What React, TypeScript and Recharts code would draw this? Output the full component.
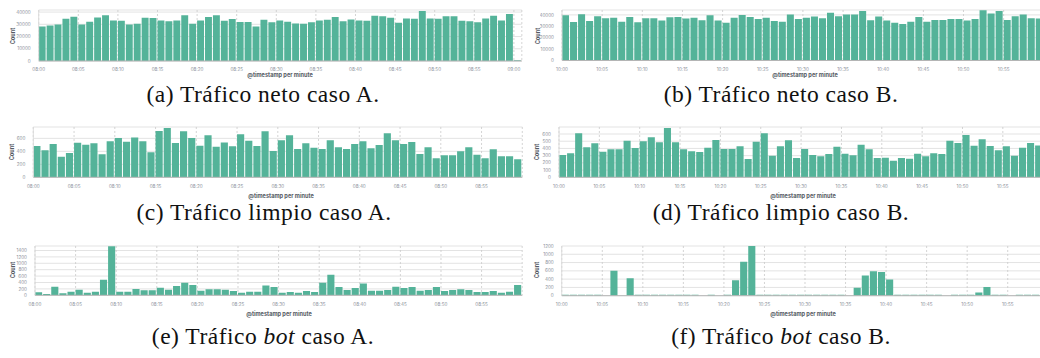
import React from 'react';
import { BarChart, Bar, XAxis, YAxis, CartesianGrid } from 'recharts';

// ---------- data ----------
const netoA = [28300, 29100, 29900, 34600, 36200, 29900, 32100, 35600, 37500, 33200, 32900, 29900, 30500, 35400, 35100, 33200, 32400, 33200, 37500, 30500, 33200, 35900, 37500, 32900, 34300, 31800, 31800, 28300, 33700, 31600, 33200, 32100, 30700, 30500, 31600, 33200, 33700, 35900, 32400, 34000, 33200, 32900, 37000, 36500, 35400, 31300, 34800, 34600, 40800, 34800, 34600, 36500, 36500, 32900, 32400, 31600, 34800, 37000, 33200, 38400, 700];
const netoB = [39700, 33800, 40600, 34700, 38800, 37100, 37400, 34100, 38200, 33500, 37100, 37100, 35000, 37900, 38200, 36800, 37400, 35300, 39700, 35000, 33200, 37400, 40000, 38200, 36500, 37600, 34700, 34100, 40300, 36500, 37600, 38500, 37100, 41800, 38800, 40300, 40300, 43500, 35300, 38500, 35000, 33200, 32100, 34100, 38200, 34100, 35600, 35600, 36500, 36500, 35000, 36500, 44100, 41200, 43500, 35600, 38800, 40300, 37100, 36800];
const limpioA = [482, 415, 513, 318, 374, 533, 503, 523, 354, 554, 605, 549, 615, 554, 385, 713, 759, 528, 708, 605, 487, 646, 472, 538, 477, 662, 564, 482, 708, 405, 569, 646, 436, 523, 456, 436, 569, 462, 436, 513, 554, 446, 497, 677, 569, 513, 544, 359, 462, 292, 338, 338, 400, 462, 349, 292, 431, 323, 323, 277];
const limpioB = [309, 332, 609, 415, 471, 355, 388, 388, 508, 406, 498, 554, 485, 683, 485, 388, 360, 351, 411, 517, 392, 392, 429, 254, 494, 609, 300, 429, 512, 267, 392, 309, 291, 323, 425, 328, 305, 452, 388, 267, 272, 231, 267, 258, 328, 291, 332, 323, 508, 475, 586, 438, 526, 434, 374, 429, 300, 411, 475, 440];
const botA = [93, 41, 268, 62, 113, 175, 82, 113, 485, 1536, 113, 113, 196, 155, 155, 237, 175, 289, 392, 320, 144, 186, 186, 175, 134, 82, 113, 113, 309, 258, 82, 103, 82, 134, 103, 392, 639, 258, 165, 227, 371, 144, 144, 165, 268, 227, 258, 144, 165, 258, 134, 165, 186, 165, 103, 103, 134, 82, 113, 320];
const botB = [25, 25, 25, 25, 25, 0, 600, 0, 420, 25, 25, 25, 25, 25, 25, 25, 25, 0, 25, 0, 25, 370, 820, 1200, 25, 25, 25, 25, 25, 25, 25, 25, 25, 25, 25, 0, 190, 490, 590, 570, 390, 25, 25, 25, 25, 25, 25, 0, 25, 25, 25, 80, 210, 25, 25, 0, 25, 25, 25, 25];

const ticksA = ['08:00', '08:05', '08:10', '08:15', '08:20', '08:25', '08:30', '08:35', '08:40', '08:45', '08:50', '08:55', '09:00'];
const ticksB = ['10:00', '10:05', '10:10', '10:15', '10:20', '10:25', '10:30', '10:35', '10:40', '10:45', '10:50', '10:55'];

const yNeto = [0, 10000, 20000, 30000, 40000];
const yLimpioA = [0, 200, 400, 600];
const yLimpioB = [0, 100, 200, 300, 400, 500, 600];
const yBotA = [0, 200, 400, 600, 800, 1000, 1200, 1400];
const yBotB = [0, 200, 400, 600, 800, 1000, 1200];

const minuteLabels = (hour: number, n: number) =>
  Array.from({ length: n }, (_, i) => {
    const h = hour + Math.floor(i / 60);
    const m = i % 60;
    return `${String(h).padStart(2, '0')}:${String(m).padStart(2, '0')}`;
  });

const BAR = '#54B399';
const KFONT = 'Inter, "Noto Sans", sans-serif';

type PanelProps = {
  values: number[];
  startHour: number;
  tickLabels: string[];
  yTicks: number[];
  yMax: number;
  svgLeft: number;
  plotLeft: number;
  plotTop: number;
  plotBottom: number;
  pxPerMin: number;
};

function Panel(p: PanelProps) {
  const n = p.values.length;
  const cats = minuteLabels(p.startHour, n);
  const data = p.values.map((v, i) => ({ t: i + 0.5, minute: cats[i], count: v }));
  const xTickVals = p.tickLabels.map((_, i) => i * 5);
  const plotRight = p.plotLeft + n * p.pxPerMin;
  const svgTop = p.plotTop - 4;
  const xAxisH = 12;
  const height = p.plotBottom - svgTop + xAxisH;
  const width = plotRight - p.svgLeft + 2;
  return (
    <div style={{ position: 'absolute', left: p.svgLeft, top: svgTop }}>
      <BarChart
        width={width}
        height={height}
        data={data}
        margin={{ top: p.plotTop - svgTop, right: 2, left: 0, bottom: 0 }}
      >
        <CartesianGrid vertical={false} stroke="#e3e3e3" strokeWidth={1} />
        <CartesianGrid horizontal={false} stroke="#c9c9c9" strokeDasharray="2 2" strokeWidth={0.8} />
        <XAxis
          dataKey="t"
          type="number"
          domain={[0, n]}
          ticks={xTickVals}
          interval={0}
          allowDataOverflow
          height={xAxisH}
          tickLine={false}
          axisLine={{ stroke: '#b5b5b5' }}
          tick={{ fontSize: 4.6, fill: '#8a8f99', fontFamily: KFONT }}
          tickMargin={1}
          tickFormatter={(v: number) => p.tickLabels[Math.round(v / 5)] ?? ''}
        />
        <YAxis
          type="number"
          domain={[0, p.yMax]}
          ticks={p.yTicks}
          interval={0}
          allowDataOverflow
          width={p.plotLeft - p.svgLeft}
          tickLine={false}
          axisLine={{ stroke: '#dcdcdc' }}
          tick={{ fontSize: 4.6, fill: '#8a8f99', fontFamily: KFONT }}
          tickMargin={2}
        />
        <Bar dataKey="count" fill={BAR} barSize={p.pxPerMin - 1} isAnimationActive={false} />
      </BarChart>
    </div>
  );
}

function CountLabel({ x, y }: { x: number; y: number }) {
  return (
    <div
      style={{
        position: 'absolute', left: x, top: y, transform: 'translate(-50%, -50%) rotate(-90deg)',
        fontFamily: KFONT, fontSize: 5.6, fontWeight: 700, color: '#555a63', whiteSpace: 'nowrap',
      }}
    >
      Count
    </div>
  );
}

function XTitle({ x, y }: { x: number; y: number }) {
  return (
    <div
      style={{
        position: 'absolute', left: x, top: y, transform: 'translate(-50%, -50%)',
        fontFamily: KFONT, fontSize: 5.6, fontWeight: 700, color: '#555a63', whiteSpace: 'nowrap',
      }}
    >
      @timestamp per minute
    </div>
  );
}

function Caption({ x, y, children }: { x: number; y: number; children: React.ReactNode }) {
  return (
    <div
      style={{
        position: 'absolute', left: x, top: y, transform: 'translate(-50%, -50%)',
        fontFamily: '"Liberation Serif", "DejaVu Serif", serif', fontSize: 23.5, letterSpacing: 0.5,
        color: '#111', whiteSpace: 'nowrap', lineHeight: 1,
      }}
    >
      {children}
    </div>
  );
}

export default function App() {
  return (
    <div style={{ position: 'absolute', left: 0, top: 0, width: 1040, height: 358, overflow: 'hidden', background: '#fff' }}>
      <Panel values={netoA} startHour={8} tickLabels={ticksA} yTicks={yNeto} yMax={41700}
        svgLeft={14} plotLeft={38.7} plotTop={10} plotBottom={61} pxPerMin={7.92} />
      <Panel values={netoB} startHour={10} tickLabels={ticksB} yTicks={yNeto} yMax={44300}
        svgLeft={540} plotLeft={562} plotTop={10} plotBottom={60.5} pxPerMin={8.03} />
      <Panel values={limpioA} startHour={8} tickLabels={ticksA.slice(0, 12)} yTicks={yLimpioA} yMax={775}
        svgLeft={14} plotLeft={33.3} plotTop={127} plotBottom={177.3} pxPerMin={8.15} />
      <Panel values={limpioB} startHour={10} tickLabels={ticksB} yTicks={yLimpioB} yMax={697}
        svgLeft={540} plotLeft={559} plotTop={127} plotBottom={177.3} pxPerMin={8.07} />
      <Panel values={botA} startHour={8} tickLabels={ticksA.slice(0, 12)} yTicks={yBotA} yMax={1540}
        svgLeft={14} plotLeft={35} plotTop={245.7} plotBottom={295} pxPerMin={8.12} />
      <Panel values={botB} startHour={10} tickLabels={ticksB} yTicks={yBotB} yMax={1200}
        svgLeft={540} plotLeft={561.7} plotTop={246} plotBottom={295.7} pxPerMin={8.11} />

      <CountLabel x={13} y={36} />
      <CountLabel x={538} y={36} />
      <CountLabel x={12} y={152} />
      <CountLabel x={537} y={152} />
      <CountLabel x={13} y={270} />
      <CountLabel x={537} y={270} />

      <XTitle x={280} y={75} />
      <XTitle x={805} y={75} />
      <XTitle x={281} y={196} />
      <XTitle x={803} y={196} />
      <XTitle x={279} y={314} />
      <XTitle x={803} y={314} />

      <Caption x={263} y={95}>(a) Tráfico neto caso A.</Caption>
      <Caption x={781} y={95}>(b) Tráfico neto caso B.</Caption>
      <Caption x={264} y={213}>(c) Tráfico limpio caso A.</Caption>
      <Caption x={781} y={213}>(d) Tráfico limpio caso B.</Caption>
      <Caption x={263} y={337}>(e) Tráfico <i>bot</i> caso A.</Caption>
      <Caption x={781} y={337}>(f) Tráfico <i>bot</i> caso B.</Caption>
    </div>
  );
}
